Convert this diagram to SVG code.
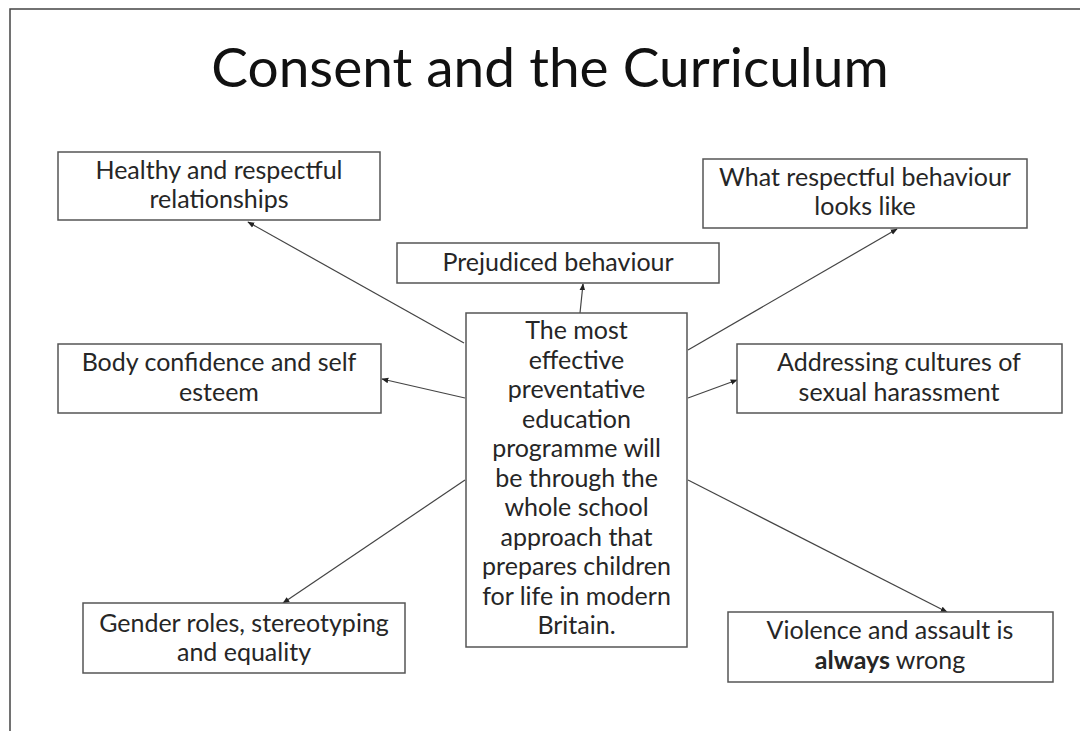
<svg xmlns="http://www.w3.org/2000/svg" width="1080" height="731" viewBox="0 0 1080 731">
<style>
.box{fill:#fff;stroke:#555;stroke-width:1.5}
.t{font-family:Lato,"Open Sans",sans-serif;font-size:25px;fill:#262626;text-anchor:middle}
.title{font-family:Lato,"Open Sans",sans-serif;font-size:55px;fill:#111;text-anchor:middle}
.c line{stroke:#444;stroke-width:1.2;marker-end:url(#ah)}
</style>
<defs>
<marker id="ah" viewBox="0 0 10 10" refX="9" refY="5" markerWidth="7" markerHeight="7" orient="auto" markerUnits="userSpaceOnUse">
<path d="M0,1 L10,5 L0,9 z" fill="#222"/>
</marker>
</defs>
<rect width="1080" height="731" fill="#fff"/>
<path d="M10,731 V9 H1080" fill="none" stroke="#444" stroke-width="1.5"/>
<text class="title" x="550" y="87">Consent and the Curriculum</text>
<g class="c">
<line x1="464" y1="343" x2="248" y2="222"/>
<line x1="580" y1="313" x2="583" y2="284"/>
<line x1="688" y1="350" x2="897" y2="229"/>
<line x1="465" y1="398" x2="382" y2="379"/>
<line x1="688" y1="398" x2="737" y2="380"/>
<line x1="465" y1="480" x2="283" y2="603"/>
<line x1="688" y1="480" x2="947" y2="612"/>
</g>
<g id="healthy"><rect class="box" x="58" y="152" width="322" height="68"/><text class="t" x="219" y="179">Healthy and respectful</text><text class="t" x="219" y="208">relationships</text></g>
<g id="respectful"><rect class="box" x="703" y="159" width="324" height="69"/><text class="t" x="865" y="186">What respectful behaviour</text><text class="t" x="865" y="215">looks like</text></g>
<g id="prejudiced"><rect class="box" x="397" y="243" width="322" height="40"/><text class="t" x="558" y="271">Prejudiced behaviour</text></g>
<g id="body"><rect class="box" x="58" y="344" width="323" height="69"/><text class="t" x="219" y="371">Body confidence and self</text><text class="t" x="219" y="401">esteem</text></g>
<g id="addressing"><rect class="box" x="737" y="344" width="325" height="69"/><text class="t" x="899" y="371">Addressing cultures of</text><text class="t" x="899" y="401">sexual harassment</text></g>
<g id="central"><rect class="box" x="466" y="313" width="221" height="334"/>
<text class="t" x="576.5" y="339">The most</text>
<text class="t" x="576.5" y="368.5">effective</text>
<text class="t" x="576.5" y="398">preventative</text>
<text class="t" x="576.5" y="427.5">education</text>
<text class="t" x="576.5" y="457">programme will</text>
<text class="t" x="576.5" y="486.5">be through the</text>
<text class="t" x="576.5" y="516">whole school</text>
<text class="t" x="576.5" y="545.5">approach that</text>
<text class="t" x="576.5" y="575">prepares children</text>
<text class="t" x="576.5" y="604.5">for life in modern</text>
<text class="t" x="576.5" y="634">Britain.</text>
</g>
<g id="gender"><rect class="box" x="83" y="603" width="322" height="70"/><text class="t" x="244" y="632">Gender roles, stereotyping</text><text class="t" x="244" y="661">and equality</text></g>
<g id="violence"><rect class="box" x="728" y="612" width="325" height="70"/><text class="t" x="890" y="639">Violence and assault is</text><text class="t" x="890" y="669"><tspan font-weight="bold">always</tspan> wrong</text></g>
</svg>
